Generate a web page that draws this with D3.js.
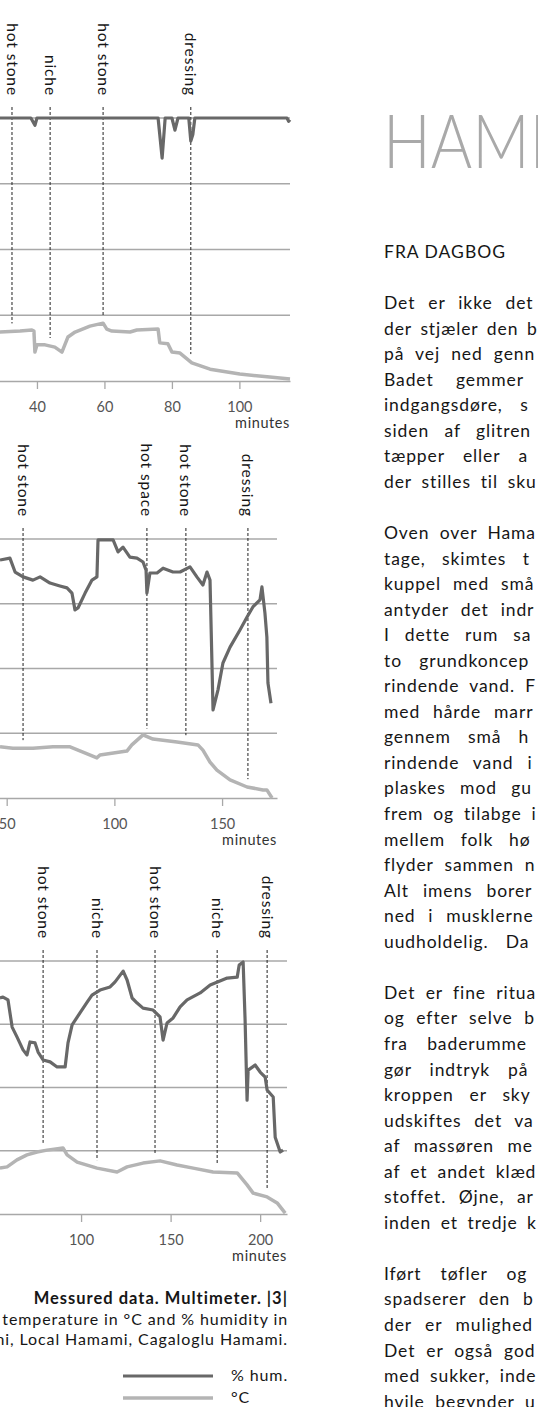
<!DOCTYPE html>
<html>
<head>
<meta charset="utf-8">
<script src="https://cdn.jsdelivr.net/npm/d3@7"></script>
<style>
  body { margin: 0; background: #fff; overflow: hidden; }
  svg { display: block; }
  text { font-family: Lato, "Open Sans", sans-serif; }
</style>
</head>
<body>
<div id="page"></div>
<script>
// ********** HAMAM MEASUREMENTS PAGE **********

// ---- data: [minutes, value] (humidity in %, temperature in °C) ----
const hum1 = [[29,100],[38.2,100],[39.4,97.8],[40,100],[75.9,100],[77.1,87.8],[78,100],
  [80,100],[80.9,96.3],[81.8,100],[85,100],[85.6,93],[86.2,95],[86.8,100],[114.1,100],[114.6,99],[115,99.5]];
const temp1 = [[29,34.9],[35,35.2],[38.5,35.5],[39.1,35.2],[39.4,28.8],[40,31],[42.4,31],[45.3,30.3],
  [47.4,28.8],[49.2,33.4],[51.3,34.9],[55.7,36.7],[59.6,37.6],[60.7,35.8],[62.2,35.2],[67.6,34.9],
  [69.6,35.5],[75.9,35.8],[76.4,31.6],[78.8,31.3],[80,28.8],[82.4,28.5],[85.9,25.5],[91.3,23.6],
  [100.1,22.1],[109,21.2],[115,20.6]];
const events1 = [[32.6,'hot stone'],[43.9,'niche'],[59.6,'hot stone'],[85.6,'dressing']];
const ticks1 = [40,60,80,100];

const hum2 = [[46.9,93.5],[51.5,94.1],[53.9,89.8],[57.6,88.3],[62.2,87.3],[65.5,88.3],[70.1,86.4],
  [74.7,85.5],[78,84.9],[80.3,83.3],[81.7,78.1],[83.1,78.7],[86.4,83.3],[89.6,87.3],[91.9,88.3],
  [92.4,99.7],[99.4,99.7],[101.7,96],[104,97.5],[107.2,94.4],[110.5,94.1],[113.3,92.9],[114.7,90.4],
  [115.1,83.3],[116.5,89.5],[119.8,89.5],[122.6,91],[127.2,89.8],[130.5,89.8],[135.1,91.4],
  [138.3,88.3],[141.1,85.8],[143,89.8],[144.4,87.3],[145.8,47.2],[148.1,53.4],[150.4,61.7],
  [153.7,66.6],[158.3,71.9],[161.6,75.9],[164.3,79],[167.6,81.2],[168.5,85.2],[169.9,77.1],
  [170.8,69.7],[171.3,55.5],[172.7,49.3]];
const temp2 = [[46.9,35.8],[52.9,35.4],[62.2,35.4],[71.5,35.8],[79.4,35.8],[85.4,34.2],[91.9,32.4],
  [93.3,33.3],[105.8,34.5],[108.1,36.4],[113.3,39.5],[117.9,38.2],[129.1,37.3],[138.8,36.4],
  [141.1,34.8],[144.4,31.1],[147.6,28.6],[153.7,25.6],[161.6,23.4],[169,22.5],[170.8,22.5],[173.2,20]];
const events2 = [[57.6,'hot stone'],[115.1,'hot space'],[133.2,'hot stone'],[162,'dressing']];
const ticks2 = [50,100,150];

const hum3 = [[54.7,88.3],[56.4,88.6],[59.2,87.7],[61.5,79.1],[64.2,76],[67.6,71.9],[69.8,70.3],
  [71.5,74.4],[74.3,74.1],[76,71.2],[78.8,68.7],[82.7,68.1],[86.6,66.5],[91.1,66.5],[92.7,74.1],
  [95,79.8],[99.4,83.6],[103.4,87],[106.1,89.2],[110.6,90.8],[116.2,91.8],[119,93.4],[123.5,96.8],
  [125.7,94],[128.5,88.3],[131.3,86.7],[134.6,85.1],[140.2,84.5],[144.1,82.3],[145.8,75],[148,80.4],
  [151.4,82],[155.3,85.5],[159.2,87.7],[166.5,89.9],[172.1,92.4],[181.6,94.6],[187.2,94.9],
  [188.3,98.7],[190.5,99.7],[191.6,81.3],[192.7,56],[193.3,65.5],[197.2,67.1],[200,64.9],
  [202.8,63.3],[203.9,59.2],[207.3,57],[208.4,44.3],[211.2,39.6],[212.8,40.2]];
const temp3 = [[54.7,34.5],[58.7,34.9],[64.2,37.1],[69.8,38.7],[75.4,39.6],[81,40.2],[89.9,40.9],
  [92.2,38.7],[97.8,36.4],[108.9,34.5],[120.1,33.3],[125.7,34.9],[134.6,36.1],[144.1,36.8],
  [153.6,35.5],[162.6,34.5],[173.7,33.3],[187.2,33],[192.7,29.2],[196.1,26.6],[203.9,25.4],
  [209.5,23.5],[214,20.3]];
const events3 = [[78.8,'hot stone'],[108.9,'niche'],[141.3,'hot stone'],[176,'niche'],[203.9,'dressing']];
const ticks3 = [100,150,200];

const gridValues = [40, 60, 80, 100];
const yDomain = [20, 100];

const caption = ['Messured data. Multimeter. |3|',
  'temperature in °C and % humidity in',
  'mi, Local Hamami, Cagaloglu Hamami.'];
const legendItems = ['% hum.', '°C'];

const pageTitle = 'HAMM';
const sectionTitle = 'FRA DAGBOG';
const paragraphs = [
  ['Det er ikke det', 'der stjæler den b', 'på vej ned genn', 'Badet gemmer', 'indgangsdøre, s',
   'siden af glitren', 'tæpper eller a', 'der stilles til sku'],
  ['Oven over Hama', 'tage, skimtes t', 'kuppel med små', 'antyder det indr', 'I dette rum sa',
   'to grundkoncep', 'rindende vand. F', 'med hårde marr', 'gennem små h', 'rindende vand i',
   'plaskes mod gu', 'frem og tilabge i', 'mellem folk hø', 'flyder sammen n', 'Alt imens borer',
   'ned i musklerne', 'uudholdelig. Da'],
  ['Det er fine ritua', 'og efter selve b', 'fra baderumme', 'gør indtryk på', 'kroppen er sky',
   'udskiftes det va', 'af massøren me', 'af et andet klæd', 'stoffet. Øjne, ar', 'inden et tredje k'],
  ['Iført tøfler og', 'spadserer den b', 'der er mulighed', 'Det er også god', 'med sukker, inde',
   'hvile begynder u']
];

// ---- layout ----
const width = 538, height = 1407;
const humColor = '#686868', tempColor = '#b4b4b4', gridColor = '#a8a8a8', ink = '#161616';

const charts = [
  {hum: hum1, temp: temp1, events: events1, ticks: ticks1, tMax: 115,   x0: -98,  x1: 290, top: 118, bottom: 381},
  {hum: hum2, temp: temp2, events: events2, ticks: ticks2, tMax: 175.5, x0: -101, x1: 277, top: 539, bottom: 798},
  {hum: hum3, temp: temp3, events: events3, ticks: ticks3, tMax: 215,   x0: -98,  x1: 287, top: 961, bottom: 1214}
];

const svg = d3.select('#page').append('svg')
  .attr('width', width)
  .attr('height', height);

const renderChart = (c) => {
  const x = d3.scaleLinear().domain([0, c.tMax]).range([c.x0, c.x1]);
  const y = d3.scaleLinear().domain(yDomain).range([c.bottom, c.top]);
  const g = svg.append('g').attr('class', 'chart');

  // gridlines
  g.selectAll('line.grid')
    .data(gridValues)
    .enter().append('line')
    .attr('class', 'grid')
    .attr('x1', c.x0).attr('x2', c.x1)
    .attr('y1', d => y(d)).attr('y2', d => y(d))
    .attr('stroke', gridColor)
    .attr('stroke-width', 1.3);

  // x axis
  const axis = g.append('g')
    .attr('transform', `translate(0, ${c.bottom})`)
    .call(d3.axisBottom(x).tickValues(c.ticks).tickSize(8).tickSizeOuter(0).tickPadding(13));
  axis.select('.domain').attr('stroke', gridColor).attr('stroke-width', 1.3);
  axis.selectAll('.tick line').attr('stroke', gridColor).attr('stroke-width', 1.3);
  axis.selectAll('.tick text')
    .attr('fill', '#555')
    .style('font-size', '14.5px')
    .style('font-family', 'Lato, sans-serif');

  g.append('text')
    .attr('x', c.x1)
    .attr('y', c.bottom + 47)
    .attr('text-anchor', 'end')
    .attr('fill', '#333')
    .style('font-size', '14.5px')
    .style('letter-spacing', '0.6px')
    .text('minutes');

  // event markers: dashed line down to just above the temperature curve
  const tempAt = (t) => {
    const i = d3.bisector(d => d[0]).left(c.temp, t);
    const a = c.temp[Math.max(0, i - 1)], b = c.temp[Math.min(c.temp.length - 1, i)];
    if (a[0] === b[0]) return a[1];
    return a[1] + (b[1] - a[1]) * (t - a[0]) / (b[0] - a[0]);
  };
  const labelEnd = c.top - 22;

  g.selectAll('line.event')
    .data(c.events)
    .enter().append('line')
    .attr('class', 'event')
    .attr('x1', d => x(d[0])).attr('x2', d => x(d[0]))
    .attr('y1', labelEnd + 11)
    .attr('y2', d => y(tempAt(d[0])) - 8)
    .attr('stroke', '#222')
    .attr('stroke-width', 1)
    .attr('stroke-dasharray', '3,2');

  g.selectAll('text.event')
    .data(c.events)
    .enter().append('text')
    .attr('class', 'event')
    .attr('transform', d => `translate(${x(d[0])}, ${labelEnd}) rotate(90)`)
    .attr('dy', '0.35em')
    .attr('text-anchor', 'end')
    .attr('fill', ink)
    .style('font-size', '15.5px')
    .style('letter-spacing', '0.9px')
    .text(d => d[1]);

  const line = d3.line().x(d => x(d[0])).y(d => y(d[1]));

  g.append('path')
    .datum(c.temp)
    .attr('d', line)
    .attr('fill', 'none')
    .attr('stroke', tempColor)
    .attr('stroke-width', 3.5)
    .attr('stroke-linejoin', 'round');

  g.append('path')
    .datum(c.hum)
    .attr('d', line)
    .attr('fill', 'none')
    .attr('stroke', humColor)
    .attr('stroke-width', 3.2)
    .attr('stroke-linejoin', 'round');
};

charts.forEach(renderChart);

// caption
svg.selectAll('text.caption')
  .data(caption)
  .enter().append('text')
  .attr('class', 'caption')
  .attr('x', 288)
  .attr('y', (d, i) => 1304 + i * 20.5)
  .attr('text-anchor', 'end')
  .attr('fill', ink)
  .style('font-size', (d, i) => i === 0 ? '16.5px' : '16px')
  .style('font-weight', (d, i) => i === 0 ? 'bold' : 'normal')
  .style('letter-spacing', (d, i) => i === 0 ? '1px' : '0.9px')
  .text(d => d);

// legend
const legend = svg.append('g').attr('class', 'legend');
legend.selectAll('line')
  .data(legendItems)
  .enter().append('line')
  .attr('x1', 123).attr('x2', 213)
  .attr('y1', (d, i) => 1376 + i * 22).attr('y2', (d, i) => 1376 + i * 22)
  .attr('stroke', (d, i) => i === 0 ? humColor : tempColor)
  .attr('stroke-width', (d, i) => i === 0 ? 3.2 : 3.5);
legend.selectAll('text')
  .data(legendItems)
  .enter().append('text')
  .attr('x', 231)
  .attr('y', (d, i) => 1381 + i * 22)
  .attr('fill', ink)
  .style('font-size', '16px')
  .style('letter-spacing', '0.9px')
  .text(d => d);

// ---- text column ----
const textX = 384, lineH = 25.55, firstLine = 309;

// big title, fitted to the width of the original face
svg.append('text')
  .attr('x', 383)
  .attr('y', 168)
  .attr('fill', '#a9a9a9')
  .attr('textLength', 204)
  .attr('lengthAdjust', 'spacingAndGlyphs')
  .style('font-size', '74px')
  .style('font-weight', 300)
  .text(pageTitle);

svg.append('text')
  .attr('x', textX)
  .attr('y', firstLine - 2 * lineH)
  .attr('fill', ink)
  .style('font-size', '17.5px')
  .style('letter-spacing', '1px')
  .text(sectionTitle);

let row = 0;
const bodyLines = [];
paragraphs.forEach(p => {
  p.forEach(l => bodyLines.push({text: l, row: row++}));
  row++;
});

const body = svg.selectAll('text.body')
  .data(bodyLines)
  .enter().append('text')
  .attr('class', 'body')
  .attr('x', textX)
  .attr('y', d => firstLine + d.row * lineH)
  .attr('fill', ink)
  .style('font-size', '17.5px')
  .style('letter-spacing', '0.9px')
  .text(d => d.text);

// justified text: widen word gaps so each line runs to the page edge
body.each(function(d) {
  const w = this.getComputedTextLength();
  const gaps = d.text.split(' ').length;
  const extra = (541 - textX - w) / gaps;
  if (extra > 0) d3.select(this).style('word-spacing', `${extra}px`);
});
</script>
</body>
</html>
